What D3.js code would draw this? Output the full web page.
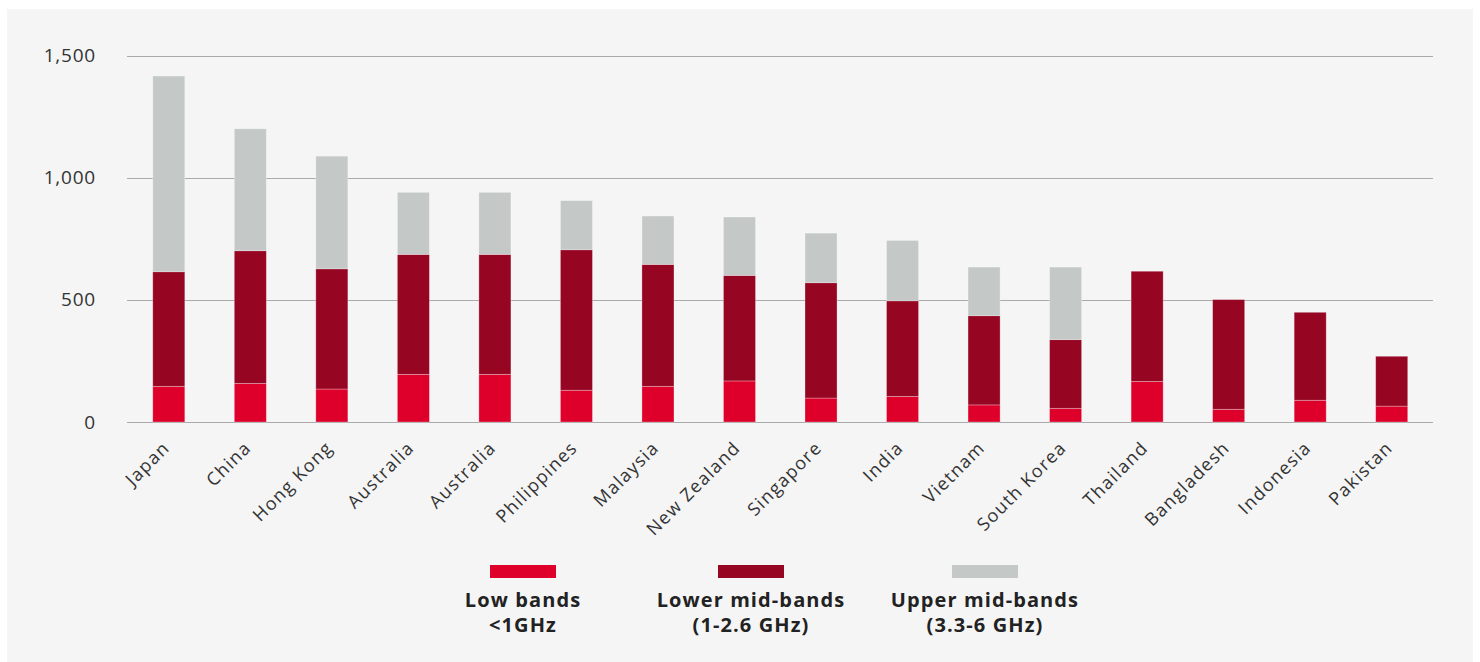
<!DOCTYPE html>
<html><head><meta charset="utf-8">
<script src="https://cdn.jsdelivr.net/npm/d3@7"></script>
<style>html,body{margin:0;padding:0;background:#fff;}svg{display:block;}</style>
</head><body><svg id="c" width="1480" height="662"></svg>
<script>
const categories = ["Japan","China","Hong Kong","Australia","Australia","Philippines","Malaysia","New Zealand","Singapore","India","Vietnam","South Korea","Thailand","Bangladesh","Indonesia","Pakistan"];
const lowBands = [146,158,135,195,195,130,146,168,98,105,70,56,166,52,89,65];
const lowerMidBands = [469,543,492,491,491,575,499,432,472,391,365,281,451,449,360,204];
const upperMidBands = [801,499,461,254,254,201,198,239,203,247,199,297,0,0,0,0];
const yTicks = [0,500,1000,1500];
const seriesNames = ["Low bands","Lower mid-bands","Upper mid-bands"];
const seriesSub = ["<1GHz","(1-2.6 GHz)","(3.3-6 GHz)"];
const colors = ["#de002b","#960623","#c4c9c8"];

const svg = d3.select("#c");
svg.append("rect").attr("x",7).attr("y",9).attr("width",1466).attr("height",653).attr("fill","#f5f5f5");

const x = d3.scaleBand().domain(d3.range(categories.length)).range([127.5,1433]).paddingInner(0.607).paddingOuter(0.31);
const y = d3.scaleLinear().domain([0,1500]).range([422,55.5]);

const data = categories.map((c,i)=>({i, low:lowBands[i], lower:lowerMidBands[i], upper:upperMidBands[i]}));
const stack = d3.stack().keys(["low","lower","upper"])(data);

// grid
const g = svg.append("g");
g.selectAll("line.grid").data(yTicks).join("line")
  .attr("x1",127).attr("x2",1433)
  .attr("y1",d=>Math.round(y(d))+0.5).attr("y2",d=>Math.round(y(d))+0.5)
  .attr("stroke","#aaaaaa").attr("stroke-width",1.2);

const yAxis = d3.axisLeft(y).tickValues(yTicks).tickFormat(d3.format(",")).tickSize(0).tickPadding(0);
const ya = svg.append("g").attr("transform","translate(96,0)").call(yAxis);
ya.select(".domain").remove();
ya.selectAll("text").attr("font-family","'Open Sans', sans-serif").attr("font-size",19).attr("fill","#333").attr("letter-spacing","0.8");

// bars
stack.forEach((s,k)=>{
  svg.append("g").selectAll("rect").data(s.filter(d=>d[1]-d[0]>0)).join("rect")
    .attr("x",d=>x(d.data.i)).attr("width",x.bandwidth())
    .attr("y",d=>y(d[1])).attr("height",d=>y(d[0])-y(d[1]))
    .attr("fill",colors[k]).attr("stroke","rgba(255,255,255,0.35)").attr("stroke-width",0.8);
});

// x labels
const xAxis = d3.axisBottom(x).tickFormat(i=>categories[i]).tickSize(0).tickPadding(0);
const xa = svg.append("g").call(xAxis);
xa.select(".domain").remove();
xa.selectAll(".tick").attr("transform",d=>`translate(${x(d)+x.bandwidth()/2+2},449)`);
xa.selectAll("text").attr("transform","rotate(-45)").attr("text-anchor","end").attr("dy",0).attr("y",0)
  .attr("font-family","'Open Sans', sans-serif").attr("font-size",18).attr("fill","#333").attr("letter-spacing","1.3");

// legend
const lx = [523,751,985];
const lg = svg.append("g");
seriesNames.forEach((n,k)=>{
  lg.append("rect").attr("x",lx[k]-33).attr("y",565).attr("width",66).attr("height",13).attr("fill",colors[k]);
  lg.append("text").attr("x",lx[k]).attr("y",607).attr("text-anchor","middle")
    .attr("font-family","'Open Sans', sans-serif").attr("font-weight",700).attr("font-size",20).attr("letter-spacing","1.1").attr("fill","#222").text(n);
  lg.append("text").attr("x",lx[k]).attr("y",632).attr("text-anchor","middle")
    .attr("font-family","'Open Sans', sans-serif").attr("font-weight",700).attr("font-size",20).attr("letter-spacing","1.1").attr("fill","#222").text(seriesSub[k]);
});
</script></body></html>
